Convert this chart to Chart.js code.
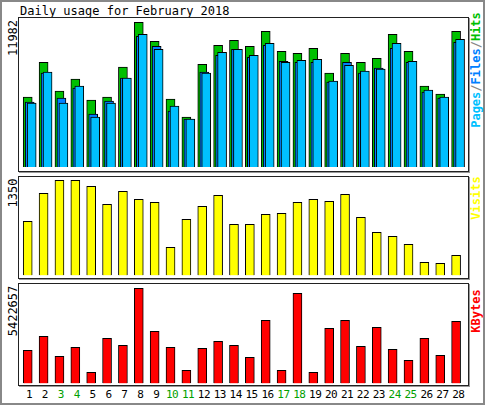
<!DOCTYPE html>
<html>
<head>
<script src="https://cdn.jsdelivr.net/npm/chart.js@4"></script>
<style>
  body { margin:0; background:#fff; }
  #wrap { position:relative; width:481px; height:401px; border:2px solid #888; background:#fff;
          font-family:"DejaVu Sans Mono", monospace; font-size:12px; }
  .panel { position:absolute; left:16px; width:449px; border:1px solid #222; box-shadow:1px 1px 0 #999; }
  .panel canvas { display:block; }
  .rot { position:absolute; transform:translate(-50%,-50%) rotate(-90deg); white-space:nowrap; }
  .day { position:absolute; top:386px; transform:translateX(-50%); font-size:11px; letter-spacing:-0.5px; }
</style>
</head>
<body>
<div id="wrap">
  <div style="position:absolute;left:18px;top:2px;">Daily usage for February 2018</div>
  <div class="rot" style="left:11px;top:36px;">11982</div>
  <div class="rot" style="left:11px;top:191px;">1350</div>
  <div class="rot" style="left:11px;top:309px;">5422657</div>
  <div class="rot" style="left:474px;top:68px;font-weight:bold;"><span style="color:#00c0ff">Pages</span><span style="color:#888">/</span><span style="color:#0080ff">Files</span><span style="color:#888">/</span><span style="color:#00c000">Hits</span></div>
  <div class="rot" style="left:474px;top:196px;color:#ffff00;font-weight:bold;">Visits</div>
  <div class="rot" style="left:474px;top:309px;color:#ff0000;font-weight:bold;">KBytes</div>
  <div class="panel" style="top:15px;height:153px;"><canvas id="c1" width="449" height="153"></canvas></div>
  <div class="panel" style="top:174px;height:101px;"><canvas id="c2" width="449" height="101"></canvas></div>
  <div class="panel" style="top:281px;height:101px;"><canvas id="c3" width="449" height="101"></canvas></div>
  <div id="days"></div>
</div>
<script>
const days = [1,2,3,4,5,6,7,8,9,10,11,12,13,14,15,16,17,18,19,20,21,22,23,24,25,26,27,28];
const weekend = [3,4,10,11,17,18,24,25];
const hits = [5785,8676,6280,7272,5537,5785,8264,11982,10412,5619,4132,8512,10082,10495,9999,11238,9586,9420,9834,7768,9420,8676,9007,10991,9586,6694,6032,11238];
const files = [5371,7768,5702,6528,4380,5454,7355,10825,9999,4628,3967,7851,9255,9751,9090,10082,8759,8676,8676,7024,8676,7768,8181,9834,8676,6198,5702,10330];
const pages = [5288,7851,5288,6694,4132,5288,7355,10991,9751,5041,3967,7768,9503,9751,9255,10247,8676,8842,8925,7107,8429,7934,8099,10247,8759,6363,5785,10577];
const visits = [767,1165,1350,1350,1265,1009,1194,1080,1037,398,796,981,1137,725,725,867,881,1037,1080,1052,1151,824,611,554,441,185,171,284];
const kbytes = [1883590,2683000,1541180,2054900,627900,2568630,2169060,5422657,2968190,2054900,742050,1997820,2397390,2169060,1484100,3596080,742050,5137250,627900,3139430,3596080,2111980,3196510,1940720,1312850,2568630,1598260,3538990];

// x range so day centers fall on the right pixels; shift per series in day units
const xMin = 0.45, xMax = 28.75, step = 0.125;

function ds(values, color, axis, order) {
  return { data: values.map((v, i) => ({ x: days[i], y: v })), backgroundColor: color,
           borderColor: '#000', borderWidth: 1, barThickness: 9, grouped: false,
           xAxisID: axis, order: order };
}
function xAxis(shift) {
  return { type: 'linear', display: false, offset: false, grid: { offset: false },
           min: xMin - shift, max: xMax - shift };
}
function make(id, datasets, axes, yMin, yMax) {
  const scales = { y: { display: false, min: yMin, max: yMax } };
  axes.forEach((s, i) => { scales['x' + i] = xAxis(s); });
  new Chart(document.getElementById(id), {
    type: 'bar',
    data: { datasets },
    options: { responsive: false, animation: false, layout: { padding: 0 },
      plugins: { legend: { display: false }, tooltip: { enabled: false } }, scales }
  });
}

make('c1', [ds(hits, '#00c000', 'x0', 3), ds(files, '#0080ff', 'x1', 2), ds(pages, '#00c0ff', 'x2', 1)],
     [0, step, 2 * step], -331, 12338);
make('c2', [ds(visits, '#ffff00', 'x0', 1)], [0], -38, 1397);
make('c3', [ds(kbytes, '#ff0000', 'x0', 1)], [0], -97000, 5668100);

const dayBox = document.getElementById('days');
days.forEach(d => {
  const el = document.createElement('div');
  el.className = 'day';
  el.textContent = d;
  el.style.left = (27 + (d - 1) * 15.9) + 'px';
  if (weekend.includes(d)) el.style.color = '#00a000';
  dayBox.appendChild(el);
});
</script>
</body>
</html>
